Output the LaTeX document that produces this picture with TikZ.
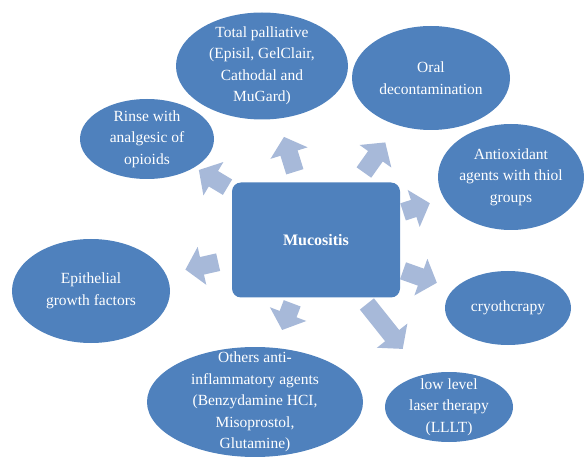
\documentclass[tikz,border=0pt]{standalone}
\usepackage{fontspec}
\setmainfont{Liberation Serif}
\usetikzlibrary{shapes.geometric,arrows.meta}
\definecolor{nodeblue}{HTML}{4F81BD}
\definecolor{arrowblue}{HTML}{A7B9D9}
\tikzset{
  btext/.style={text=white, inner sep=0pt, align=center,
    font=\fontsize{15.5}{21.5}\selectfont},
  bubble/.style={ellipse, fill=nodeblue, inner sep=0pt},
  centerbox/.style={rectangle, rounded corners=9pt, fill=nodeblue, text=white,
    minimum width=168pt, minimum height=115pt, inner sep=0pt,
    font=\fontsize{16}{21.5}\selectfont\bfseries},
  blockarrow/.style={draw=arrowblue, line width=18pt,
    -{Triangle[width=38pt,length=17pt]}}
}
\begin{document}
\begin{tikzpicture}[x=1pt,y=-1pt]
\useasboundingbox (0,0) rectangle (584,457);
\node[centerbox] (m) at (316,240) {Mucositis};
\node[bubble, minimum width=172pt, minimum height=107pt,
  label={[btext]center:{Total palliative\\(Episil, GelClair,\\Cathodal and\\MuGard)}}]
  (tp) at (262,66) {};
\node[bubble, minimum width=158pt, minimum height=104pt,
  label={[btext]center:{Oral\\decontamination}}] (oral) at (431,78) {};
\node[bubble, minimum width=146pt, minimum height=106pt,
  label={[btext]center:{Antioxidant\\agents with thiol\\groups}}] (anti) at (511,177) {};
\node[bubble, minimum width=126pt, minimum height=74pt,
  label={[btext]center:{cryothcrapy}}] (cryo) at (508,308) {};
\node[bubble, minimum width=128pt, minimum height=70pt,
  label={[btext]center:{low level\\laser therapy\\(LLLT)}}] (lllt) at (449,407) {};
\node[bubble, minimum width=216pt, minimum height=110pt,
  label={[btext]center:{Others anti-\\inflammatory agents\\(Benzydamine HCI,\\Misoprostol,\\Glutamine)}}]
  (oth) at (255,402) {};
\node[bubble, minimum width=158pt, minimum height=104pt,
  label={[btext]center:{Epithelial\\growth factors}}] (epi) at (91,291) {};
\node[bubble, minimum width=134pt, minimum height=80pt,
  label={[btext]center:{Rinse with\\analgesic of\\opioids}}] (rinse) at (147,139) {};
\draw[blockarrow, shorten <=5pt, shorten >=5pt] (m) -- (rinse);
\draw[blockarrow, shorten <=11pt, shorten >=19pt] (m) -- (tp);
\draw[blockarrow, shorten <=12pt, shorten >=21pt] (m) -- (oral);
\draw[blockarrow, shorten <=3pt, shorten >=15pt] (m) -- (anti);
\draw[blockarrow, shorten <=3pt, shorten >=18pt] (m) -- (cryo);
\draw[blockarrow, shorten <=8pt, shorten >=33pt] (m) -- (lllt);
\draw[blockarrow, shorten <=6pt, shorten >=19pt] (m) -- (oth);
\draw[blockarrow, shorten <=14pt, shorten >=20pt] (m) -- (epi);
\end{tikzpicture}
\end{document}
